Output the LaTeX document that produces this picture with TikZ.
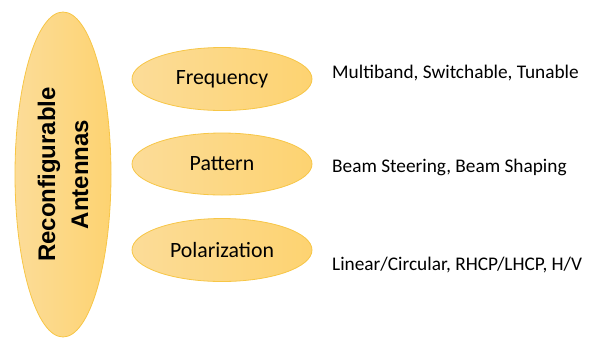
\documentclass[tikz,border=0pt]{standalone}
\usepackage{fontspec}
\usetikzlibrary{shapes.geometric}
\setmainfont{Carlito}
\newfontfamily\arialfont{Liberation Sans}
\begin{document}
\begin{tikzpicture}[x=1pt,y=-1pt,
  oval/.style={ellipse, draw=ellborder, line width=0.8pt, left color=ellleft, right color=ellright, inner sep=0pt},
  lbl/.style={font=\fontsize{21.8}{26}\selectfont, text=black},
  desc/.style={font=\fontsize{19.3}{23}\selectfont, anchor=west, text=black, inner sep=0pt}]
\definecolor{ellborder}{HTML}{F7C646}
\definecolor{ellleft}{HTML}{FCDC98}
\definecolor{ellright}{HTML}{FDD371}
\useasboundingbox (0,0) rectangle (593,338);
\path[clip] (0,0) rectangle (593,338);
\node[oval, minimum width=96pt, minimum height=325pt] (main) at (63,174.5) {};
\node[rotate=90, align=center, font=\arialfont\bfseries\fontsize{24}{33}\selectfont] (maintxt) at (main.center) {Reconfigurable\\Antennas};
\node[oval, minimum width=180pt, minimum height=63pt] (freq) at (222,79) {};
\node[lbl] at (freq.center) {Frequency};
\node[oval, minimum width=180pt, minimum height=62pt] (patt) at (222,164) {};
\node[lbl] at (patt.center) {Pattern};
\node[oval, minimum width=180pt, minimum height=63pt] (pol) at (222,250) {};
\node[lbl] at (pol.center) {Polarization};
\node[desc] (d1) at (332,73) {Multiband, Switchable, Tunable};
\node[desc] (d2) at (332,167) {Beam Steering, Beam Shaping};
\node[desc] (d3) at (332,265) {Linear/Circular, RHCP/LHCP, H/V};
\end{tikzpicture}
\end{document}
